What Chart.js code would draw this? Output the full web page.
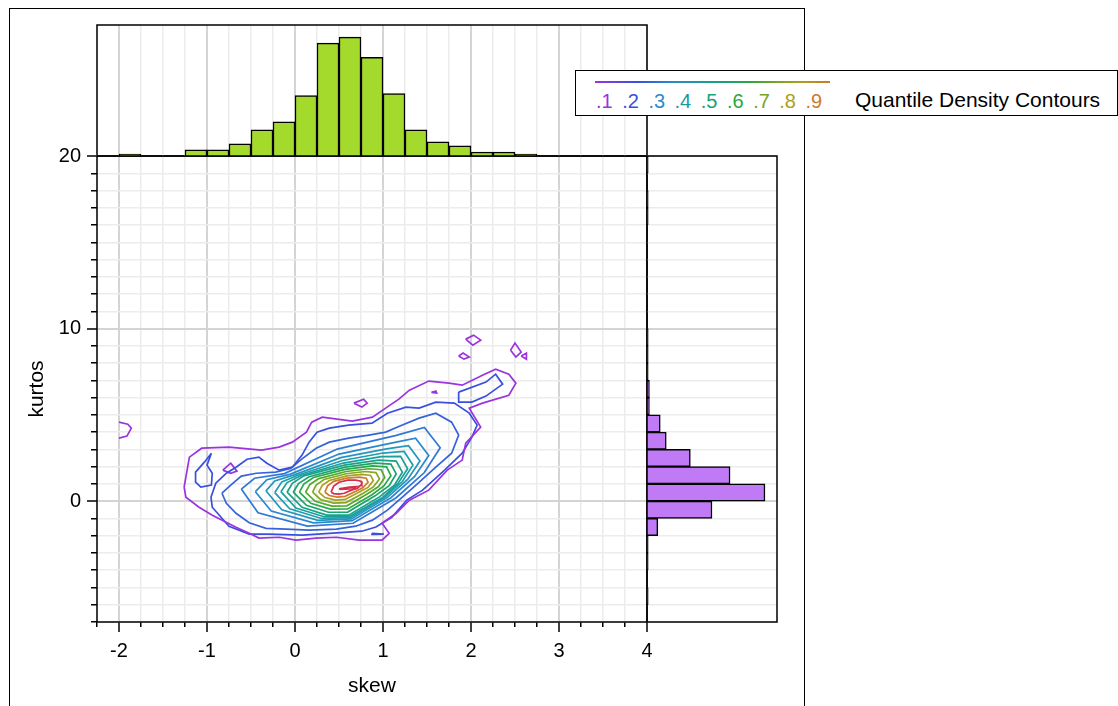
<!DOCTYPE html>
<html>
<head>
<meta charset="utf-8">
<script src="https://cdn.jsdelivr.net/npm/chart.js@4.4.1/dist/chart.umd.min.js"></script>
<style>
  html, body { margin: 0; padding: 0; background: #fff; }
  #page { position: relative; width: 1118px; height: 706px; overflow: hidden; font-family: "Liberation Sans", Arial, sans-serif; }
  #page canvas { position: absolute; left: 0; top: 0; }
  #frame { position: absolute; left: 9px; top: 8px; width: 796px; height: 760px; border: 1.5px solid #000; box-sizing: border-box; }
  #legend { position: absolute; left: 575px; top: 70px; width: 543px; height: 46px; border: 1.5px solid #000; box-sizing: border-box; background: #fff; z-index: 5; }
  #legend .ramp { position: absolute; left: 19px; top: 10px; width: 235px; height: 2px;
    background: linear-gradient(to right, #9b33de 0%, #3a4fe0 18%, #2a8acb 33%, #1a9aa0 45%, #17a27a 56%, #2aa840 66%, #78a424 77%, #aaa01c 88%, #cc7a2c 100%); }
  #legend .nums { position: absolute; left: 20px; top: 18px; font-size: 20px; line-height: 24px; white-space: nowrap; }
  #legend .nums span { display: inline-block; width: 26.2px; }
  #legend .name { position: absolute; left: 279px; top: 17px; font-size: 21px; line-height: 24px; white-space: nowrap; color: #000; }
</style>
</head>
<body>
<div id="page">
  <div id="frame"></div>
  <canvas id="main" width="1118" height="706"></canvas>
  <canvas id="side" width="1118" height="706"></canvas>
  <canvas id="top" width="1118" height="706"></canvas>
  <div id="legend">
    <div class="ramp"></div>
    <div class="nums"><span style="color:#9b33de">.1</span><span style="color:#3a4fe0">.2</span><span style="color:#2a8acb">.3</span><span style="color:#1a9aa0">.4</span><span style="color:#17a27a">.5</span><span style="color:#2aa840">.6</span><span style="color:#78a424">.7</span><span style="color:#aaa01c">.8</span><span style="color:#cc7a2c">.9</span></div>
    <div class="name">Quantile Density Contours</div>
  </div>
</div>
<script>
/* histogram of skew (bins of 0.25, centres) */
const skewBins = [-2.125, -1.875, -1.625, -1.375, -1.125, -0.875, -0.625, -0.375, -0.125, 0.125, 0.375, 0.625, 0.875,
  1.125, 1.375, 1.625, 1.875, 2.125, 2.375, 2.625, 2.875, 3.125, 3.375, 3.625, 3.875];
const skewCounts = [0, 1, 0, 0, 3, 3, 6, 13, 17, 30, 56, 59, 49, 31, 13, 7, 5, 2, 2, 1, 0, 0, 0, 0, 0];

/* histogram of kurtos (bins of 1, centres) */
const kurtBins = [-6.5, -5.5, -4.5, -3.5, -2.5, -1.5, -0.5, 0.5, 1.5, 2.5, 3.5, 4.5, 5.5, 6.5, 7.5, 8.5, 9.5,
  10.5, 11.5, 12.5, 13.5, 14.5, 15.5, 16.5, 17.5, 18.5, 19.5];
const kurtCounts = [0, 1, 0, 1, 1, 9, 54, 98, 69, 36, 16, 11, 2, 2, 1, 1, 1, 0, 0, 0, 0, 0, 0, 1, 1, 0, 1];

/* quantile density contours, outer to inner, [skew, kurtos] */
const ring0 = [[-1.26,0.81],[-1.20,2.55],[-1.06,3.07],[-0.75,3.13],[-0.38,2.96],[-0.18,3.13],[-0.03,3.42],[0.13,4.00],[0.19,4.58],[0.31,4.87],[0.65,4.64],[0.88,4.87],[1.03,5.39],[1.18,5.91],[1.30,6.43],[1.52,6.96],[1.75,6.84],[1.90,6.72],[2.13,7.30],[2.28,7.65],[2.43,7.36],[2.51,6.84],[2.43,6.14],[2.13,5.68],[1.98,5.39],[2.11,4.29],[1.94,3.36],[1.90,2.38],[1.73,1.80],[1.52,0.64],[1.30,0.06],[1.15,-0.70],[0.99,-1.28],[1.07,-1.86],[0.99,-2.26],[0.73,-2.26],[0.47,-2.09],[0.24,-2.14],[0.01,-2.26],[-0.18,-2.09],[-0.41,-2.14],[-0.52,-1.86],[-0.67,-1.51],[-0.94,-0.81],[-1.09,-0.35],[-1.24,0.23]];
const ring1 = [[-0.955,0.23],[-0.90,1.04],[-0.78,1.62],[-0.67,1.97],[-0.545,2.43],[-0.41,2.55],[-0.32,2.20],[-0.18,1.80],[-0.03,1.97],[0.08,2.67],[0.16,3.42],[0.25,4.00],[0.39,4.23],[0.61,4.41],[0.875,4.52],[1.05,5.10],[1.26,5.45],[1.41,5.39],[1.60,5.74],[1.81,5.68],[1.98,5.10],[2.07,4.41],[2.01,3.71],[1.90,2.78],[1.70,1.80],[1.45,0.64],[1.27,0.06],[1.10,-0.93],[0.92,-1.50],[0.76,-1.74],[0.39,-1.86],[0.08,-1.97],[-0.30,-1.91],[-0.52,-1.91],[-0.75,-1.45],[-0.94,-0.35]];
const ring2 = [[-0.83,0.46],[-0.73,0.93],[-0.61,1.45],[-0.44,1.62],[-0.22,1.68],[-0.05,1.90],[0.08,2.45],[0.24,3.07],[0.39,3.42],[0.61,3.65],[0.84,3.83],[1.03,4.00],[1.22,4.41],[1.41,4.81],[1.60,5.10],[1.78,4.58],[1.86,3.83],[1.78,2.78],[1.60,1.97],[1.40,1.04],[1.22,0.23],[1.05,-0.52],[0.88,-1.10],[0.69,-1.45],[0.47,-1.62],[0.16,-1.68],[-0.10,-1.62],[-0.33,-1.57],[-0.52,-1.25],[-0.67,-0.70],[-0.78,-0.12]];
const ring3 = [[-0.61,0.70],[-0.46,1.33],[-0.12,1.60],[0.48,3.02],[1.14,3.80],[1.47,4.27],[1.65,3.10],[1.47,1.66],[1.15,0.20],[0.66,-1.28],[0.14,-1.44],[-0.42,-0.67]];
const ring4 = [[-0.45,0.55],[-0.32,1.24],[-0.05,1.57],[0.50,2.73],[1.08,3.35],[1.37,3.65],[1.52,2.65],[1.36,1.43],[1.09,0.20],[0.65,-1.13],[0.21,-1.26],[-0.27,-0.57]];
const ring5 = [[-0.33,0.60],[-0.23,1.17],[0.00,1.54],[0.52,2.52],[1.04,3.03],[1.29,3.21],[1.42,2.33],[1.28,1.26],[1.05,0.22],[0.64,-1.03],[0.26,-1.11],[-0.15,-0.50]];
const ring6 = [[-0.23,0.50],[-0.15,1.12],[0.04,1.52],[0.54,2.36],[1.00,2.79],[1.24,2.88],[1.34,2.09],[1.22,1.14],[1.02,0.23],[0.63,-0.95],[0.30,-1.00],[-0.06,-0.44]];
const ring7 = [[-0.16,0.55],[-0.09,1.08],[0.07,1.49],[0.55,2.21],[0.98,2.58],[1.20,2.60],[1.28,1.88],[1.17,1.03],[1.00,0.23],[0.62,-0.88],[0.33,-0.90],[0.01,-0.40]];
const ring8 = [[-0.09,0.52],[-0.03,1.04],[0.10,1.47],[0.56,2.09],[0.95,2.38],[1.15,2.32],[1.22,1.68],[1.13,0.93],[0.96,0.25],[0.61,-0.81],[0.36,-0.81],[0.08,-0.35]];
const ring9 = [[-0.02,0.52],[0.04,1.02],[0.16,1.42],[0.57,1.97],[0.91,2.21],[1.09,2.15],[1.15,1.58],[1.07,0.90],[0.91,0.31],[0.60,-0.63],[0.38,-0.64],[0.13,-0.24]];
const ring10 = [[0.05,0.52],[0.10,0.99],[0.21,1.37],[0.57,1.84],[0.88,2.05],[1.04,1.99],[1.09,1.48],[1.01,0.88],[0.87,0.36],[0.60,-0.45],[0.40,-0.46],[0.18,-0.12]];
const ring11 = [[0.12,0.52],[0.17,0.97],[0.27,1.31],[0.58,1.72],[0.84,1.88],[0.98,1.82],[1.02,1.38],[0.95,0.85],[0.82,0.42],[0.59,-0.27],[0.42,-0.29],[0.23,-0.01]];
const ring12 = [[0.20,0.52],[0.24,0.94],[0.33,1.26],[0.58,1.59],[0.80,1.72],[0.92,1.66],[0.96,1.29],[0.89,0.83],[0.78,0.47],[0.58,-0.08],[0.44,-0.11],[0.29,0.10]];
const ring13 = [[0.27,0.52],[0.31,0.92],[0.39,1.20],[0.59,1.47],[0.76,1.55],[0.86,1.49],[0.89,1.19],[0.83,0.80],[0.73,0.53],[0.57,0.10],[0.46,0.06],[0.34,0.21]];
const ring14 = [[0.34,0.52],[0.37,0.89],[0.44,1.15],[0.59,1.34],[0.73,1.39],[0.81,1.33],[0.83,1.09],[0.77,0.78],[0.69,0.58],[0.57,0.28],[0.48,0.24],[0.39,0.33]];
const ring15 = [[0.41,0.52],[0.44,0.87],[0.50,1.10],[0.60,1.22],[0.69,1.22],[0.75,1.16],[0.76,0.99],[0.71,0.75],[0.64,0.64],[0.56,0.46],[0.50,0.41],[0.44,0.44]];
const ring16 = [[0.50,0.72],[0.62,0.81],[0.70,0.84],[0.66,0.72],[0.52,0.68]];

/* small separate pieces of the two outer levels */
const purpleBits = [
  [[-2.0,4.58],[-1.90,4.46],[-1.86,4.23],[-1.91,3.77],[-2.0,3.65]],
  [[-0.82,1.80],[-0.73,2.20],[-0.66,1.74],[-0.73,1.62],[-0.82,1.80]],
  [[0.67,5.68],[0.78,5.91],[0.82,5.68],[0.76,5.45],[0.67,5.68]],
  [[1.94,9.39],[2.03,9.62],[2.11,9.33],[2.02,9.04],[1.94,9.39]],
  [[1.86,8.41],[1.91,8.58],[1.98,8.35],[1.92,8.23],[1.86,8.41]],
  [[2.45,8.75],[2.50,9.16],[2.57,8.64],[2.51,8.35],[2.45,8.75]],
  [[2.57,8.41],[2.63,8.58],[2.63,8.23],[2.57,8.41]],
  [[1.55,6.30],[1.60,6.38],[1.61,6.27],[1.55,6.30]]
];
const blueBits = [
  [[-0.95,2.78],[-1.03,2.26],[-1.13,1.68],[-1.13,1.10],[-1.07,0.81],[-0.95,0.93],[-0.94,1.62],[-1.00,2.09],[-0.95,2.78]],
  [[1.86,6.32],[2.17,6.90],[2.28,7.36],[2.36,6.78],[2.17,6.09],[2.01,5.74],[1.86,5.74],[1.86,6.32]],
  [[0.875,-1.86],[1.01,-1.91],[0.88,-1.93],[0.875,-1.86]]
];

const rings = [ring0, ring1, ring2, ring3, ring4, ring5, ring6, ring7, ring8, ring9, ring10, ring11, ring12, ring13, ring14, ring15, ring16];
const ringColors = ['#9b33de', '#3a4fe0', '#3563dc', '#2f78d6', '#2a88cc', '#2496bd', '#1e9eae', '#19a09c', '#17a287',
  '#1aa46c', '#2aa84a', '#52aa2a', '#80a820', '#aaa01c', '#cc7a2c', '#d62d4c', '#d62d4c'];

const gridMajor = '#d4d4d4';
const gridMinor = '#ececec';
const fontFamily = '"Liberation Sans", Arial, sans-serif';

Chart.defaults.font.family = fontFamily;
Chart.defaults.color = '#000';

function whole(v, step) {
  return Math.abs(v / step - Math.round(v / step)) < 1e-6;
}

// black box round each plot area
const framePlugin = {
  id: 'frame',
  afterDraw(chart) {
    const { ctx, chartArea: a } = chart;
    ctx.save();
    ctx.strokeStyle = '#000';
    ctx.lineWidth = 1.5;
    ctx.strokeRect(a.left, a.top, a.right - a.left, a.bottom - a.top);
    ctx.restore();
  }
};

function skewAxis(withTicks) {
  return {
    type: 'linear', min: -2.25, max: 4, offset: false,
    ticks: {
      display: withTicks, stepSize: 0.25, autoSkip: false, maxRotation: 0, padding: 7,
      font: { size: 20 }, color: '#000',
      callback: v => whole(v, 1) ? String(Math.round(v)) : ''
    },
    grid: {
      offset: false, drawTicks: withTicks, tickLength: 10, tickColor: '#000', tickWidth: 1.5,
      color: c => whole(c.tick.value, 1) ? gridMajor : gridMinor,
      lineWidth: c => whole(c.tick.value, 1) ? 2 : 1.5,
      tickBorderDash: c => whole(c.tick.value, 1) ? [] : [5, 100]
    },
    border: { display: false }
  };
}

function kurtAxis(withTicks) {
  return {
    type: 'linear', min: -7, max: 20, offset: false,
    ticks: {
      display: withTicks, stepSize: 1, autoSkip: false, padding: 6,
      font: { size: 20 }, color: '#000',
      callback: v => whole(v, 10) ? String(Math.round(v)) : ''
    },
    grid: {
      offset: false, drawTicks: withTicks, tickLength: 10, tickColor: '#000', tickWidth: 1.5,
      color: c => whole(c.tick.value, 10) ? gridMajor : gridMinor,
      lineWidth: c => whole(c.tick.value, 10) ? 2 : 1.5,
      tickBorderDash: c => whole(c.tick.value, 10) ? [] : [0, 4, 6, 100]
    },
    border: { display: false }
  };
}

const toPts = arr => arr.map(p => ({ x: p[0], y: p[1] }));
const closed = arr => arr.concat([arr[0]]);

const contourSets = [];
rings.forEach((r, i) => {
  contourSets.push({ data: toPts(closed(r)), borderColor: ringColors[i] });
});
purpleBits.forEach(b => contourSets.push({ data: toPts(b), borderColor: ringColors[0] }));
blueBits.forEach(b => contourSets.push({ data: toPts(b), borderColor: ringColors[1] }));
contourSets.forEach(d => {
  d.showLine = true;
  d.pointRadius = 0;
  d.borderWidth = 1.7;
  d.tension = 0;
  d.fill = false;
});

/* main plot */
new Chart(document.getElementById('main'), {
  type: 'scatter',
  data: { datasets: contourSets },
  options: {
    responsive: false, animation: false, devicePixelRatio: 1,
    layout: { padding: { left: 9, top: 156, right: 471, bottom: 0 } },
    plugins: { legend: { display: false }, tooltip: { enabled: false } },
    scales: {
      x: Object.assign(skewAxis(true), {
        title: { display: true, text: 'skew', font: { size: 21 }, color: '#000', padding: { top: 0, bottom: 7 } },
        afterFit: s => { s.height = 84; }
      }),
      y: Object.assign(kurtAxis(true), {
        title: { display: true, text: 'kurtos', font: { size: 21 }, color: '#000', padding: { top: 16, bottom: 0 } },
        afterFit: s => { s.width = 88; }
      })
    }
  },
  plugins: [framePlugin]
});

/* kurtos histogram on the right */
new Chart(document.getElementById('side'), {
  type: 'bar',
  data: {
    datasets: [{
      data: kurtBins.map((b, i) => ({ x: kurtCounts[i], y: b })),
      backgroundColor: '#c07af5', borderColor: '#000', borderWidth: 1.5,
      categoryPercentage: 1, barPercentage: 1
    }]
  },
  options: {
    indexAxis: 'y',
    responsive: false, animation: false, devicePixelRatio: 1,
    layout: { padding: { left: 647, top: 156, right: 341, bottom: 84 } },
    plugins: { legend: { display: false }, tooltip: { enabled: false } },
    scales: {
      x: { type: 'linear', min: 0, max: 108, display: false },
      y: Object.assign(kurtAxis(false), { afterFit: s => { s.width = 0; } })
    }
  },
  plugins: [framePlugin]
});

/* skew histogram on top */
new Chart(document.getElementById('top'), {
  type: 'bar',
  data: {
    datasets: [{
      data: skewBins.map((b, i) => ({ x: b, y: skewCounts[i] })),
      backgroundColor: '#a3da2b', borderColor: '#000', borderWidth: 1.5,
      categoryPercentage: 1, barPercentage: 1
    }]
  },
  options: {
    responsive: false, animation: false, devicePixelRatio: 1,
    layout: { padding: { left: 97, top: 25, right: 471, bottom: 550 } },
    plugins: { legend: { display: false }, tooltip: { enabled: false } },
    scales: {
      x: Object.assign(skewAxis(false), { afterFit: s => { s.height = 0; } }),
      y: { type: 'linear', min: 0, max: 65, display: false }
    }
  },
  plugins: [framePlugin]
});
</script>
</body>
</html>
